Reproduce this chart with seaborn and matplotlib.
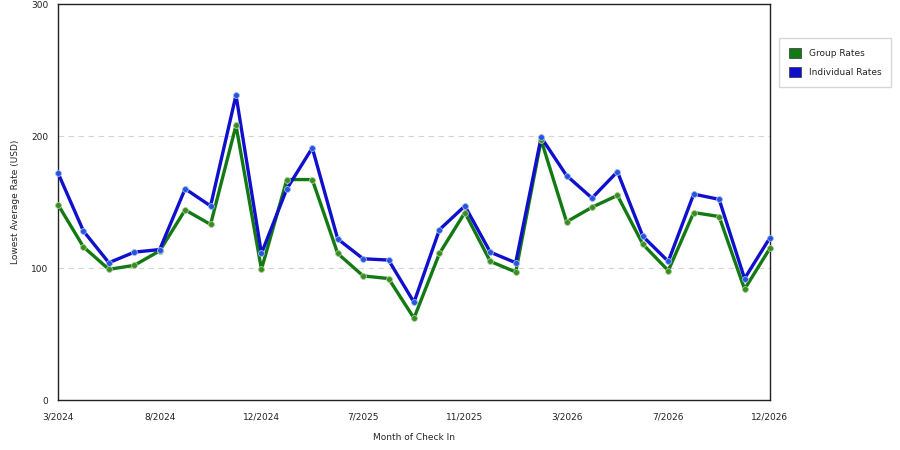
import pandas as pd
import matplotlib
matplotlib.use("Agg")
import matplotlib.pyplot as plt
import seaborn as sns
from matplotlib.patches import Patch

# months shown on the x axis (29 check-in months)
months = ["3/2024", "4/2024", "5/2024", "6/2024", "8/2024", "9/2024", "10/2024", "11/2024",
          "12/2024", "1/2025", "2/2025", "6/2025", "7/2025", "8/2025", "9/2025", "10/2025",
          "11/2025", "12/2025", "1/2026", "2/2026", "3/2026", "4/2026", "5/2026", "6/2026",
          "7/2026", "8/2026", "9/2026", "10/2026", "12/2026"]

group_rates = [148, 116, 99, 102, 113, 144, 133, 208, 99, 167, 167, 111, 94, 92, 62, 111,
               142, 105, 97, 197, 135, 146, 155, 118, 98, 142, 139, 84, 115]
individual_rates = [172, 128, 104, 112, 114, 160, 147, 231, 111, 160, 191, 122, 107, 106, 74, 129,
                    147, 112, 104, 199, 170, 153, 173, 124, 105, 156, 152, 92, 123]

series_names = ["Group Rates", "Individual Rates"]
colors = {"Group Rates": "#137a13", "Individual Rates": "#1010cc"}
marker_colors = {"Group Rates": "#3c8c22", "Individual Rates": "#2454e0"}
marker_edges = {"Group Rates": "#a8cc98", "Individual Rates": "#a0b8f0"}

df = pd.DataFrame({
    "idx": list(range(len(months))) * 2,
    "month": months * 2,
    "rate": group_rates + individual_rates,
    "series": [series_names[0]] * len(months) + [series_names[1]] * len(months),
})

sns.set_style("white")
plt.rcParams["font.family"] = ["DejaVu Sans"]

fig = plt.figure(figsize=(9, 4.5), dpi=100)
ax = fig.add_axes([58 / 900, 50 / 450, 712 / 900, 396 / 450])

# light dashed reference lines
for yv in [100, 200]:
    ax.axhline(yv, color="#d4d4d4", lw=0.8, ls=(0, (5, 4)), zorder=0)

sns.lineplot(data=df, x="idx", y="rate", hue="series", palette=colors, lw=2.4,
             legend=False, ax=ax, zorder=3, clip_on=False)
for name in series_names:
    sub = df[df["series"] == name]
    ax.scatter(sub["idx"], sub["rate"], s=18, color=marker_colors[name],
               edgecolor=marker_edges[name], linewidth=0.6, zorder=4, clip_on=False)

ax.set_xlim(0, len(months) - 1)
ax.set_ylim(0, 300)
ax.set_yticks([0, 100, 200, 300])
tick_pos = list(range(0, len(months), 4))
ax.set_xticks(tick_pos)
ax.set_xticklabels([months[i] for i in tick_pos])
ax.tick_params(axis="both", labelsize=6.5, length=5, width=0.8, direction="out",
               colors="#222222", pad=2)
ax.tick_params(axis="x", pad=4)
for s in ax.spines.values():
    s.set_color("#222222")
    s.set_linewidth(1)

ax.set_xlabel("Month of Check In", fontsize=6.5, labelpad=8)
ax.set_ylabel("Lowest Average Rate (USD)", fontsize=6.5, labelpad=8)

handles = [Patch(facecolor=colors[n], edgecolor="#333333", linewidth=0.5) for n in series_names]
fig.legend(handles, series_names, loc="upper left", bbox_to_anchor=(779 / 900, 1 - 38 / 450),
           fontsize=6.5, frameon=True, edgecolor="#cccccc", fancybox=False,
           handlelength=1.3, handleheight=1.3, borderpad=1.1, labelspacing=1.0,
           handletextpad=0.9, borderaxespad=0)

fig.savefig("out.png", dpi=100)
plt.close(fig)
